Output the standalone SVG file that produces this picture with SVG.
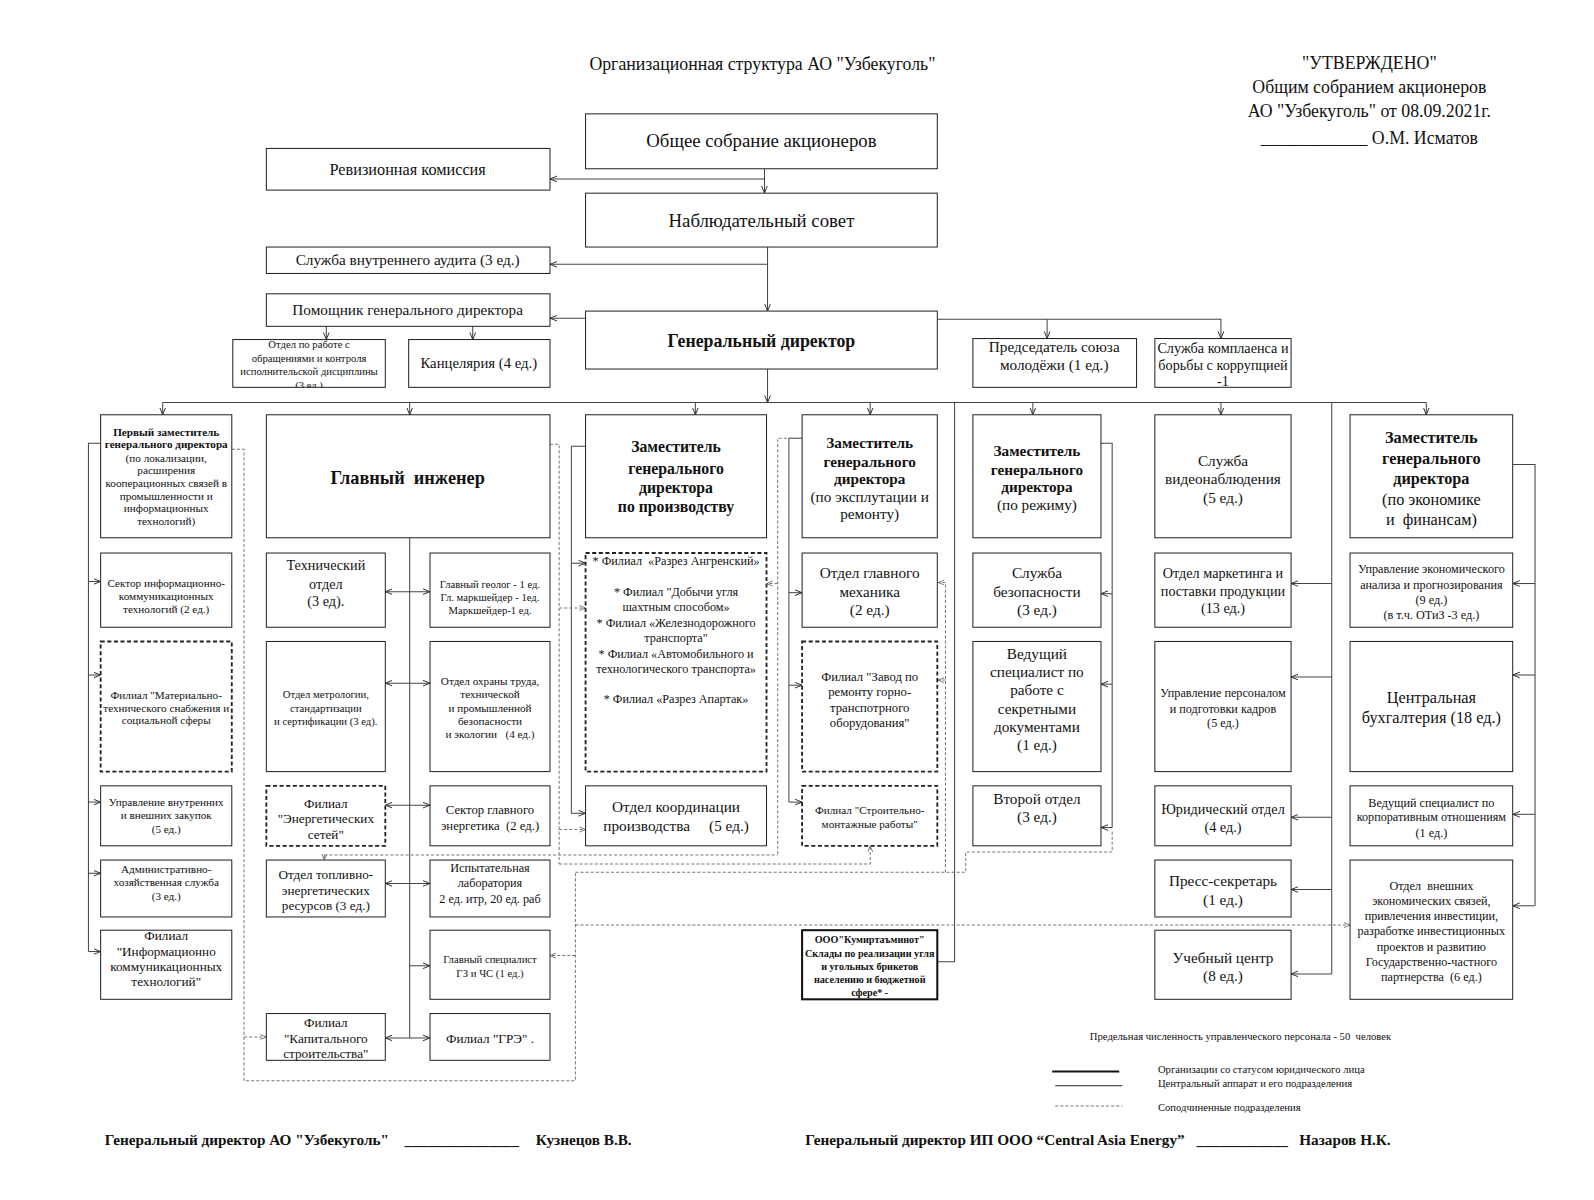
<svg xmlns="http://www.w3.org/2000/svg" width="1594" height="1200" viewBox="0 0 1594 1200">
<style>
.b{fill:#fff;stroke:#222;stroke-width:1}
.d{fill:#fff;stroke:#222;stroke-width:1.8;stroke-dasharray:4 2.5}
.k{fill:#fff;stroke:#111;stroke-width:2}
.c{fill:none;stroke:#444;stroke-width:1}
.ca{fill:none;stroke:#444;stroke-width:1;marker-end:url(#a)}
.c2{fill:none;stroke:#444;stroke-width:1;marker-start:url(#a);marker-end:url(#a)}
.cd{fill:none;stroke:#777;stroke-width:1;stroke-dasharray:3 2}
.cda{fill:none;stroke:#777;stroke-width:1;stroke-dasharray:3 2;marker-end:url(#ad)}
text{font-family:"Liberation Serif","Times New Roman",serif;fill:#111;text-anchor:middle}
.bd{font-weight:bold}
.l{text-anchor:start}
</style>
<defs>
<marker id="a" viewBox="0 0 10 10" refX="10" refY="5" markerWidth="7" markerHeight="7" orient="auto-start-reverse" markerUnits="userSpaceOnUse"><path d="M0,1 L10,5 L0,9" fill="none" stroke="#333" stroke-width="1.4"/></marker>
<marker id="ad" viewBox="0 0 10 10" refX="10" refY="5" markerWidth="6" markerHeight="6" orient="auto-start-reverse" markerUnits="userSpaceOnUse"><path d="M0,1 L10,5 L0,9" fill="none" stroke="#666" stroke-width="1.4"/></marker>
<clipPath id="clipO"><rect x="229" y="334" width="150" height="47"/></clipPath>
</defs>
<rect x="0" y="0" width="1594" height="1200" fill="#fff"/>
<g transform="scale(1.0166)">

<g id="connectors">
<path class="ca" d="M752,166 V190"/>
<path class="ca" d="M752,176 H541"/>
<path class="ca" d="M755,243 V306"/>
<path class="ca" d="M755,260 H541"/>
<path class="ca" d="M576,313 H541"/>
<path class="ca" d="M321,321 V334"/>
<path class="ca" d="M465,321 V334"/>
<path class="ca" d="M922,314 H1201 V333"/>
<path class="ca" d="M1030,314 V333"/>
<path class="ca" d="M755,363 V396"/>
<path class="c" d="M160,396 H1403"/>
<path class="ca" d="M160,396 V408"/>
<path class="ca" d="M403,396 V408"/>
<path class="ca" d="M684,396 V408"/>
<path class="ca" d="M856,396 V408"/>
<path class="ca" d="M1016,396 V408"/>
<path class="ca" d="M1201,396 V408"/>
<path class="ca" d="M1403,396 V408"/>
<path class="c" d="M939,396 V946 H922"/>
<path class="c" d="M1310,396 V958"/>
<path class="ca" d="M1310,574 H1270"/>
<path class="ca" d="M1310,666 H1270"/>
<path class="ca" d="M1310,804 H1270"/>
<path class="ca" d="M1310,875 H1270"/>
<path class="ca" d="M1310,958 H1270"/>
<path class="c" d="M1488,457 H1510 V891"/>
<path class="ca" d="M1510,574 H1488"/>
<path class="ca" d="M1510,664 H1488"/>
<path class="ca" d="M1510,801 H1488"/>
<path class="ca" d="M1510,891 H1488"/>
<path class="c" d="M1083,436 H1094 V814"/>
<path class="ca" d="M1094,584 H1083"/>
<path class="ca" d="M1094,673 H1083"/>
<path class="ca" d="M1094,814 H1083"/>
<path class="c" d="M789,431 H776 V789"/>
<path class="ca" d="M776,583 H789"/>
<path class="ca" d="M776,674 H789"/>
<path class="ca" d="M776,789 H789"/>
<path class="c" d="M576,439 H562 V800"/>
<path class="ca" d="M562,554 H576"/>
<path class="ca" d="M562,800 H576"/>
<path class="c" d="M403,529 V1021"/>
<path class="c2" d="M379,582 H423"/>
<path class="c2" d="M379,672 H423"/>
<path class="c2" d="M379,792 H423"/>
<path class="c2" d="M379,869 H423"/>
<path class="ca" d="M403,950 H423"/>
<path class="c2" d="M379,1021 H423"/>
<path class="c" d="M99,436 H87 V936"/>
<path class="ca" d="M87,572 H99"/>
<path class="ca" d="M87,664 H99"/>
<path class="ca" d="M87,789 H99"/>
<path class="ca" d="M87,859 H99"/>
<path class="ca" d="M87,936 H99"/>
<path class="cd" d="M228,442 H240 V1063 H566 V858"/>
<path class="cda" d="M240,1020 H262"/>
<path class="cda" d="M566,910 H1328"/>
<path class="cda" d="M566,940 H541"/>
<path class="cd" d="M541,437 H550 V850"/>
<path class="cda" d="M550,598 H576"/>
<path class="cda" d="M550,816 H576"/>
<path class="cda" d="M550,850 H856 V832"/>
<path class="cd" d="M319,841 H765"/>
<path class="cda" d="M319,841 V846"/>
<path class="cd" d="M789,431 H765 V841"/>
<path class="cda" d="M765,574 H754"/>
<path class="cd" d="M566,858 H950 V838 H1094 V816"/>
<path class="cda" d="M930,858 V573 H923"/>
<path class="cda" d="M930,669 H923"/>
</g>

<g id="title"><text x="750" y="69" font-size="17.5">Организационная структура АО "Узбекуголь"</text></g>
<g id="approval" font-size="17.5">
<text x="1347" y="68">"УТВЕРЖДЕНО"</text>
<text x="1347" y="91">Общим собранием акционеров</text>
<text x="1347" y="115">АО "Узбекуголь" от 08.09.2021г.</text>
<text x="1347" y="142">____________ О.М. Исматов</text>
</g>

<g id="n_gsa"><rect class="b" x="576" y="112" width="346" height="54"/><text x="749" y="145" font-size="18.5">Общее собрание акционеров</text></g>
<g id="n_rev"><rect class="b" x="262" y="146" width="279" height="41"/><text x="401" y="172" font-size="16">Ревизионная комиссия</text></g>
<g id="n_ns"><rect class="b" x="576" y="190" width="346" height="53"/><text x="749" y="223" font-size="18.5">Наблюдательный совет</text></g>
<g id="n_audit"><rect class="b" x="262" y="243" width="279" height="26"/><text x="401" y="261" font-size="15">Служба внутреннего аудита (3 ед.)</text></g>
<g id="n_pom"><rect class="b" x="262" y="289" width="279" height="32"/><text x="401" y="310" font-size="15">Помощник генерального директора</text></g>
<g id="n_gd"><rect class="b" x="576" y="306" width="346" height="57"/><text x="749" y="341" font-size="17.5" class="bd">Генеральный директор</text></g>
<g id="n_obr"><rect class="b" x="229" y="334" width="150" height="47"/>
<g clip-path="url(#clipO)" font-size="10.5"><text x="304" y="342">Отдел по работе с</text><text x="304" y="356">обращениями и контроля</text><text x="304" y="369">исполнительской дисциплины</text><text x="304" y="383">(3 ед.)</text></g></g>
<g id="n_kanc"><rect class="b" x="402" y="334" width="139" height="47"/><text x="471" y="362" font-size="14.5">Канцелярия (4 ед.)</text></g>
<g id="n_molod"><rect class="b" x="957" y="333" width="161" height="48"/><text x="1037" y="346" font-size="15">Председатель союза</text><text x="1037" y="364" font-size="15">молодёжи (1 ед.)</text></g>
<g id="n_kompl"><rect class="b" x="1136" y="333" width="134" height="48"/><g font-size="14"><text x="1203" y="347">Служба комплаенса и</text><text x="1203" y="364">борьбы с коррупцией</text><text x="1203" y="380">-1</text></g></g>

<g id="n_z1"><rect class="b" x="99" y="408" width="129" height="121"/><g font-size="11"><text x="163.5" y="429" class="bd">Первый заместитель</text><text x="163.5" y="441" class="bd">генерального директора</text><text x="163.5" y="454">(по локализации,</text><text x="163.5" y="466">расширения</text><text x="163.5" y="479">кооперационных связей в</text><text x="163.5" y="492">промышленности и</text><text x="163.5" y="504">информационных</text><text x="163.5" y="516">технологий)</text></g></g>
<g id="n_ikt"><rect class="b" x="99" y="544" width="129" height="73"/><g font-size="11"><text x="163.5" y="577">Сектор информационно-</text><text x="163.5" y="590">коммуникационных</text><text x="163.5" y="603">технологий (2 ед.)</text></g></g>
<g id="n_mts"><rect class="d" x="99" y="631" width="129" height="128"/><g font-size="11"><text x="163.5" y="688">Филиал "Материально-</text><text x="163.5" y="700">технического снабжения и</text><text x="163.5" y="712">социальной сферы</text></g></g>
<g id="n_zak"><rect class="b" x="99" y="773" width="129" height="59"/><g font-size="11"><text x="163.5" y="793">Управление внутренних</text><text x="163.5" y="806">и внешних закупок</text><text x="163.5" y="819">(5 ед.)</text></g></g>
<g id="n_ahs"><rect class="b" x="99" y="846" width="129" height="56"/><g font-size="11"><text x="163.5" y="859">Административно-</text><text x="163.5" y="872">хозяйственная служба</text><text x="163.5" y="885">(3 ед.)</text></g></g>
<g id="n_fikt"><rect class="b" x="99" y="915" width="129" height="68"/><g font-size="13"><text x="163.5" y="925">Филиал</text><text x="163.5" y="940">"Информационно</text><text x="163.5" y="955">коммуникационных</text><text x="163.5" y="970">технологий"</text></g></g>

<g id="n_gi"><rect class="b" x="262" y="408" width="279" height="121"/><text x="401" y="476" font-size="18" class="bd" xml:space="preserve">Главный  инженер</text></g>
<g id="n_teh"><rect class="b" x="262" y="544" width="117" height="73"/><g font-size="14"><text x="320.5" y="561">Технический</text><text x="320.5" y="579">отдел</text><text x="320.5" y="596">(3 ед).</text></g></g>
<g id="n_geo"><rect class="b" x="423" y="544" width="118" height="73"/><g font-size="10.5"><text x="482" y="578">Главный геолог - 1 ед.</text><text x="482" y="591">Гл. маркшейдер - 1ед.</text><text x="482" y="604">Маркшейдер-1 ед.</text></g></g>
<g id="n_metr"><rect class="b" x="262" y="631" width="117" height="128"/><g font-size="10.5"><text x="320.5" y="687">Отдел метрологии,</text><text x="320.5" y="700">стандартизации</text><text x="320.5" y="713">и сертификации (3 ед).</text></g></g>
<g id="n_ohr"><rect class="b" x="423" y="631" width="118" height="128"/><g font-size="11"><text x="482" y="674">Отдел охраны труда,</text><text x="482" y="687">технической</text><text x="482" y="700">и промышленной</text><text x="482" y="713">безопасности</text><text x="482" y="726" xml:space="preserve">и экологии   (4 ед.)</text></g></g>
<g id="n_es"><rect class="d" x="262" y="773" width="117" height="59"/><g font-size="13"><text x="320.5" y="795">Филиал</text><text x="320.5" y="810">"Энергетических</text><text x="320.5" y="825">сетей"</text></g></g>
<g id="n_energ"><rect class="b" x="423" y="773" width="118" height="59"/><g font-size="12.5"><text x="482" y="801">Сектор главного</text><text x="482" y="816" xml:space="preserve">энергетика  (2 ед.)</text></g></g>
<g id="n_ter"><rect class="b" x="262" y="846" width="117" height="56"/><g font-size="13"><text x="320.5" y="865">Отдел топливно-</text><text x="320.5" y="880">энергетических</text><text x="320.5" y="895">ресурсов (3 ед.)</text></g></g>
<g id="n_lab"><rect class="b" x="423" y="846" width="118" height="56"/><g font-size="12"><text x="482" y="858">Испытательная</text><text x="482" y="873">лаборатория</text><text x="482" y="888">2 ед. итр, 20 ед. раб</text></g></g>
<g id="n_gz"><rect class="b" x="423" y="915" width="118" height="68"/><g font-size="10.5"><text x="482" y="947">Главный специалист</text><text x="482" y="961">ГЗ и ЧС (1 ед.)</text></g></g>
<g id="n_ks"><rect class="b" x="262" y="997" width="117" height="46"/><g font-size="13"><text x="320.5" y="1010">Филиал</text><text x="320.5" y="1026">"Капитального</text><text x="320.5" y="1041">строительства"</text></g></g>
<g id="n_gre"><rect class="b" x="423" y="997" width="118" height="46"/><text x="482" y="1026" font-size="13">Филиал "ГРЭ" .</text></g>

<g id="n_zpr"><rect class="b" x="576" y="408" width="178" height="121"/><g font-size="15.5" class="bd"><text x="665" y="445">Заместитель</text><text x="665" y="466">генерального</text><text x="665" y="485">директора</text><text x="665" y="504">по производству</text></g></g>
<g id="n_fil"><rect class="d" x="576" y="544" width="178" height="215"/><g font-size="12"><text x="665" y="556" xml:space="preserve">* Филиал  «Разрез Ангренский»</text><text x="665" y="586">* Филиал "Добычи угля</text><text x="665" y="601">шахтным способом»</text><text x="665" y="617">* Филиал «Железнодорожного</text><text x="665" y="632">транспорта"</text><text x="665" y="647">* Филиал «Автомобильного и</text><text x="665" y="662">технологического транспорта»</text><text x="665" y="692">* Филиал «Разрез Апартак»</text></g></g>
<g id="n_koord"><rect class="b" x="576" y="773" width="178" height="59"/><g font-size="15"><text x="665" y="799">Отдел координации</text><text x="665" y="817" xml:space="preserve">производства     (5 ед.)</text></g></g>

<g id="n_zek"><rect class="b" x="789" y="408" width="133" height="121"/><g font-size="15"><text x="855.5" y="441" class="bd">Заместитель</text><text x="855.5" y="459" class="bd">генерального</text><text x="855.5" y="476" class="bd">директора</text><text x="855.5" y="494">(по эксплутации и</text><text x="855.5" y="511">ремонту)</text></g></g>
<g id="n_meh"><rect class="b" x="789" y="544" width="133" height="73"/><g font-size="15"><text x="855.5" y="569">Отдел главного</text><text x="855.5" y="587">механика</text><text x="855.5" y="605">(2 ед.)</text></g></g>
<g id="n_zavod"><rect class="d" x="789" y="631" width="133" height="128"/><g font-size="12.5"><text x="855.5" y="670">Филиал "Завод по</text><text x="855.5" y="685">ремонту горно-</text><text x="855.5" y="700">транспотрного</text><text x="855.5" y="715">оборудования"</text></g></g>
<g id="n_smr"><rect class="d" x="789" y="773" width="133" height="59"/><g font-size="11"><text x="855.5" y="801">Филиал "Строительно-</text><text x="855.5" y="814">монтажные работы"</text></g></g>
<g id="n_ooo"><rect class="k" x="789" y="915" width="133" height="68"/><g font-size="10" class="bd"><text x="855.5" y="928">ООО"Кумиртаъминот"</text><text x="855.5" y="941">Склады по реализации угля</text><text x="855.5" y="954">и угольных брикетов</text><text x="855.5" y="967">населению и бюджетной</text><text x="855.5" y="980">сфере* -</text></g></g>

<g id="n_zrez"><rect class="b" x="957" y="408" width="126" height="121"/><g font-size="15"><text x="1020" y="449" class="bd">Заместитель</text><text x="1020" y="467" class="bd">генерального</text><text x="1020" y="484" class="bd">директора</text><text x="1020" y="502">(по режиму)</text></g></g>
<g id="n_sb"><rect class="b" x="957" y="544" width="126" height="73"/><g font-size="15"><text x="1020" y="569">Служба</text><text x="1020" y="587">безопасности</text><text x="1020" y="605">(3 ед.)</text></g></g>
<g id="n_sekr"><rect class="b" x="957" y="631" width="126" height="128"/><g font-size="15"><text x="1020" y="648">Ведущий</text><text x="1020" y="666">специалист по</text><text x="1020" y="684">работе с</text><text x="1020" y="702">секретными</text><text x="1020" y="720">документами</text><text x="1020" y="738">(1 ед.)</text></g></g>
<g id="n_vtor"><rect class="b" x="957" y="773" width="126" height="59"/><g font-size="15"><text x="1020" y="791">Второй отдел</text><text x="1020" y="809">(3 ед.)</text></g></g>

<g id="n_video"><rect class="b" x="1136" y="408" width="134" height="121"/><g font-size="15"><text x="1203" y="458">Служба</text><text x="1203" y="476">видеонаблюдения</text><text x="1203" y="495">(5 ед.)</text></g></g>
<g id="n_mark"><rect class="b" x="1136" y="544" width="134" height="73"/><g font-size="14"><text x="1203" y="569">Отдел маркетинга и</text><text x="1203" y="586">поставки продукции</text><text x="1203" y="603">(13 ед.)</text></g></g>
<g id="n_kadr"><rect class="b" x="1136" y="631" width="134" height="128"/><g font-size="12"><text x="1203" y="686">Управление персоналом</text><text x="1203" y="701">и подготовки кадров</text><text x="1203" y="715">(5 ед.)</text></g></g>
<g id="n_yur"><rect class="b" x="1136" y="773" width="134" height="59"/><g font-size="14"><text x="1203" y="801">Юридический отдел</text><text x="1203" y="818">(4 ед.)</text></g></g>
<g id="n_press"><rect class="b" x="1136" y="846" width="134" height="56"/><g font-size="15"><text x="1203" y="872">Пресс-секретарь</text><text x="1203" y="890">(1 ед.)</text></g></g>
<g id="n_uch"><rect class="b" x="1136" y="915" width="134" height="68"/><g font-size="15"><text x="1203" y="947">Учебный центр</text><text x="1203" y="965">(8 ед.)</text></g></g>

<g id="n_zecon"><rect class="b" x="1328" y="408" width="160" height="121"/><g font-size="16"><text x="1408" y="436" class="bd">Заместитель</text><text x="1408" y="456" class="bd">генерального</text><text x="1408" y="476" class="bd">директора</text><text x="1408" y="497">(по экономике</text><text x="1408" y="516" xml:space="preserve">и  финансам)</text></g></g>
<g id="n_uea"><rect class="b" x="1328" y="544" width="160" height="73"/><g font-size="12"><text x="1408" y="564">Управление экономического</text><text x="1408" y="579">анализа и прогнозирования</text><text x="1408" y="594">(9 ед.)</text><text x="1408" y="609">(в т.ч. ОТиЗ -3 ед.)</text></g></g>
<g id="n_buh"><rect class="b" x="1328" y="631" width="160" height="128"/><g font-size="16"><text x="1408" y="692">Центральная</text><text x="1408" y="711">бухгалтерия (18 ед.)</text></g></g>
<g id="n_korp"><rect class="b" x="1328" y="773" width="160" height="59"/><g font-size="12"><text x="1408" y="794">Ведущий специалист по</text><text x="1408" y="808">корпоративным отношениям</text><text x="1408" y="823">(1 ед.)</text></g></g>
<g id="n_ves"><rect class="b" x="1328" y="846" width="160" height="137"/><g font-size="12"><text x="1408" y="875" xml:space="preserve">Отдел  внешних</text><text x="1408" y="890">экономических связей,</text><text x="1408" y="905">привлечения инвестиции,</text><text x="1408" y="920">разработке инвестиционных</text><text x="1408" y="935">проектов и развитию</text><text x="1408" y="950">Государственно-частного</text><text x="1408" y="965" xml:space="preserve">партнерства  (6 ед.)</text></g></g>

<g id="legend" font-size="10.5">
<text x="1072" y="1023" class="l" xml:space="preserve">Предельная численность управленческого персонала - 50  человек</text>
<line x1="1035" y1="1054" x2="1101" y2="1054" stroke="#111" stroke-width="2"/>
<text x="1139" y="1055" class="l">Организации со статусом юридического лица</text>
<line x1="1038" y1="1068" x2="1104" y2="1068" stroke="#222" stroke-width="1"/>
<text x="1139" y="1069" class="l">Центральный аппарат и его подразделения</text>
<line x1="1038" y1="1088" x2="1104" y2="1088" stroke="#777" stroke-width="1" stroke-dasharray="3 2"/>
<text x="1139" y="1093" class="l">Соподчиненные подразделения</text>
</g>

<g id="footer" font-size="15">
<text x="103" y="1126" class="l bd">Генеральный директор АО "Узбекуголь"</text>
<text x="398" y="1126" class="l bd">_______________</text>
<text x="527" y="1126" class="l bd">Кузнецов В.В.</text>
<text x="792" y="1126" class="l bd">Генеральный директор ИП ООО “Central Asia Energy”</text>
<text x="1177" y="1126" class="l bd">____________</text>
<text x="1278" y="1126" class="l bd">Назаров Н.К.</text>
</g>
</g>
</svg>
